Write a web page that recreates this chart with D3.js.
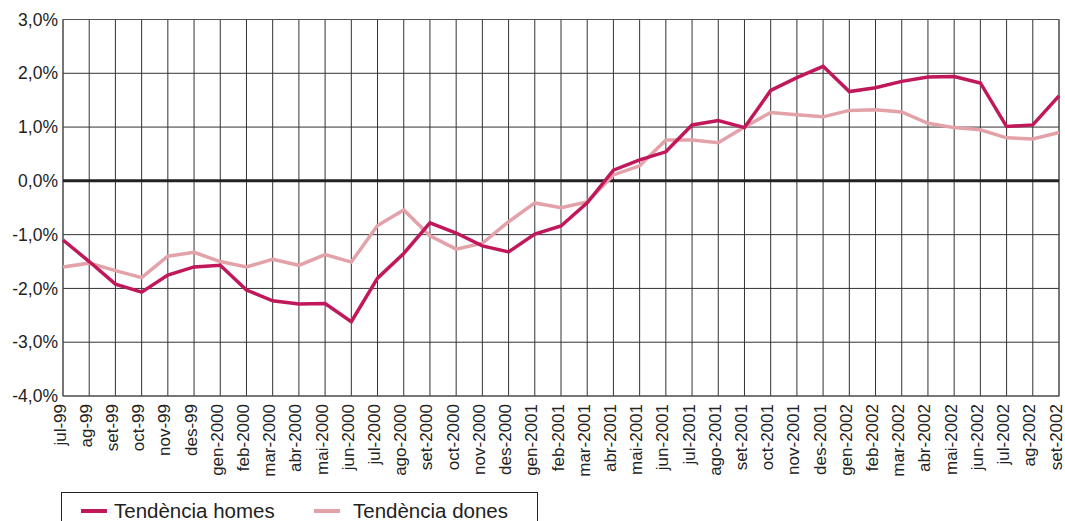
<!DOCTYPE html>
<html>
<head>
<meta charset="utf-8">
<script src="https://cdn.jsdelivr.net/npm/d3@7"></script>
<style>
  body { margin: 0; background: #fff; }
  text { font-family: "Liberation Sans", Arial, sans-serif; fill: #222; }
</style>
</head>
<body>
<div id="container"></div>
<script>
var months = ["jul-99", "ag-99", "set-99", "oct-99", "nov-99", "des-99",
  "gen-2000", "feb-2000", "mar-2000", "abr-2000", "mai-2000", "jun-2000",
  "jul-2000", "ago-2000", "set-2000", "oct-2000", "nov-2000", "des-2000",
  "gen-2001", "feb-2001", "mar-2001", "abr-2001", "mai-2001", "jun-2001",
  "jul-2001", "ago-2001", "set-2001", "oct-2001", "nov-2001", "des-2001",
  "gen-2002", "feb-2002", "mar-2002", "abr-2002", "mai-2002", "jun-2002",
  "jul-2002", "ag-2002", "set-2002"];

var homes = [-1.1, -1.5, -1.92, -2.07, -1.75, -1.6, -1.57, -2.03, -2.23, -2.29,
  -2.28, -2.62, -1.81, -1.35, -0.78, -0.97, -1.21, -1.32, -0.99, -0.84,
  -0.41, 0.2, 0.39, 0.54, 1.04, 1.12, 0.99, 1.68, 1.92, 2.13,
  1.66, 1.73, 1.85, 1.93, 1.94, 1.82, 1.01, 1.04, 1.58];

var dones = [-1.6, -1.53, -1.67, -1.8, -1.4, -1.33, -1.5, -1.6, -1.46, -1.57,
  -1.37, -1.51, -0.83, -0.54, -1.02, -1.27, -1.16, -0.76, -0.41, -0.5,
  -0.39, 0.11, 0.28, 0.76, 0.76, 0.71, 1.0, 1.27, 1.23, 1.19,
  1.31, 1.32, 1.28, 1.07, 0.99, 0.95, 0.8, 0.78, 0.9];

var yTicks = [-4, -3, -2, -1, 0, 1, 2, 3];
var seriesNames = ["Tendència homes", "Tendència dones"];
var seriesColors = ["#c0185a", "#e3a1a8"];

(function () {
  var width = 1065, height = 521;
  var left = 63, right = 1059, top = 19.5, bottom = 396;

  var svg = d3.select("#container").append("svg")
    .attr("width", width).attr("height", height);

  var x = d3.scalePoint().domain(months).range([left, right]);
  var y = d3.scaleLinear().domain([-4, 3]).range([bottom, top]);

  // grid
  svg.append("g").selectAll("line").data(months).enter().append("line")
    .attr("x1", function (d) { return x(d); }).attr("x2", function (d) { return x(d); })
    .attr("y1", top).attr("y2", bottom)
    .attr("stroke", "#333").attr("stroke-width", 1);

  svg.append("g").selectAll("line").data(yTicks).enter().append("line")
    .attr("x1", left).attr("x2", right)
    .attr("y1", function (d) { return y(d); }).attr("y2", function (d) { return y(d); })
    .attr("stroke", "#333").attr("stroke-width", 1);

  svg.append("rect").attr("x", left).attr("y", top)
    .attr("width", right - left).attr("height", bottom - top)
    .attr("fill", "none").attr("stroke", "#555").attr("stroke-width", 1);

  svg.append("line").attr("x1", left).attr("x2", right)
    .attr("y1", y(0)).attr("y2", y(0))
    .attr("stroke", "#222").attr("stroke-width", 3);

  // y axis labels
  var yAxis = d3.axisLeft(y).tickValues(yTicks).tickSize(0).tickPadding(5)
    .tickFormat(function (d) { return d3.format(".1f")(d).replace(".", ",").replace("−", "-") + "%"; });
  var ga = svg.append("g").attr("transform", "translate(" + left + ",0)").call(yAxis);
  ga.select(".domain").remove();
  ga.selectAll("text").style("font-size", "17.5px")
    .style("font-family", "'Liberation Sans', Arial, sans-serif").attr("fill", "#222");

  // x axis labels
  var xAxis = d3.axisBottom(x).tickSize(0).tickPadding(0);
  var gx = svg.append("g").attr("transform", "translate(0," + bottom + ")").call(xAxis);
  gx.select(".domain").remove();
  gx.selectAll("text")
    .style("font-size", "17px")
    .style("font-family", "'Liberation Sans', Arial, sans-serif")
    .attr("fill", "#222")
    .attr("text-anchor", "end")
    .attr("transform", "rotate(-90)")
    .attr("x", -8).attr("y", 0).attr("dy", "0.12em");

  // lines
  var line = d3.line().x(function (d, i) { return x(months[i]); }).y(function (d) { return y(d); });
  [dones, homes].forEach(function (s, k) {
    svg.append("path").datum(s)
      .attr("d", line)
      .attr("fill", "none")
      .attr("stroke", k === 0 ? seriesColors[1] : seriesColors[0])
      .attr("stroke-width", 3.5)
      .attr("stroke-linejoin", "miter");
  });

  // legend
  var lg = svg.append("g");
  lg.append("rect").attr("x", 61.5).attr("y", 492.5).attr("width", 476).attr("height", 40)
    .attr("fill", "#fff").attr("stroke", "#222").attr("stroke-width", 1);
  var items = [{ x: 81, tx: 114 }, { x: 314, tx: 353 }];
  items.forEach(function (it, i) {
    lg.append("line").attr("x1", it.x).attr("x2", it.x + 26)
      .attr("y1", 511).attr("y2", 511)
      .attr("stroke", seriesColors[i]).attr("stroke-width", 4);
    lg.append("text").attr("x", it.tx).attr("y", 518)
      .style("font-size", "20.5px").text(seriesNames[i]);
  });
})();
</script>
</body>
</html>
